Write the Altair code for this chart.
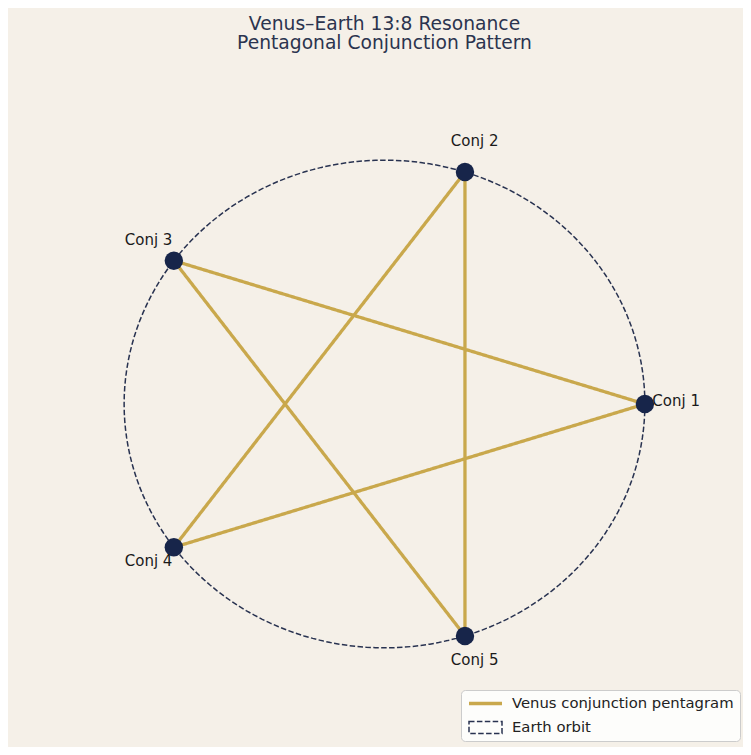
import altair as alt
import pandas as pd

# ---- data ----
conj_labels = ["Conj 1", "Conj 2", "Conj 3", "Conj 4", "Conj 5"]
conj_angles_deg = [0, 72, 144, 216, 288]
pentagram_order = [1, 3, 5, 2, 4, 1]   # star drawn by joining every second conjunction
orbit_radius = 1.0
label_radius = 1.12

series_names = ["Venus conjunction pentagram", "Earth orbit"]
series_colors = ["#c9a84c", "#283250"]
series_dash = [[1, 0], [5.5, 2.4]]
series_width = [3.3, 1.5]
series_symbol = ["stroke", "M-1,-0.36H1V0.36H-1Z"]

BG = "#f5f0e8"
NAVY = "#17254a"
FONT = "DejaVu Sans"

points = pd.DataFrame({"label": conj_labels, "angle": conj_angles_deg})
star = pd.DataFrame({
    "step": list(range(len(pentagram_order))),
    "angle": [conj_angles_deg[i - 1] for i in pentagram_order],
    "series": series_names[0],
})

xs = alt.Scale(domain=[-1.3, 1.3], nice=False, zero=False)
ys = alt.Scale(domain=[-1.3, 1.3], nice=False, zero=False)

color_scale = alt.Scale(domain=series_names, range=series_colors)
dash_scale = alt.Scale(domain=series_names, range=series_dash)
width_scale = alt.Scale(domain=series_names, range=series_width)
shape_scale = alt.Scale(domain=series_names, range=series_symbol)

legend = alt.Legend(
    title=None,
    orient="none",
    legendX=415,
    legendY=603,
    symbolType="stroke",
    symbolSize=1089,
    symbolFillColor="transparent",
    clipHeight=15,
    rowPadding=8,
    labelOffset=8,
    labelFont=FONT,
    labelFontSize=14.8,
    labelColor="#222222",
    labelLimit=400,
    padding=6,
    fillColor="rgba(255,255,255,0.82)",
    strokeColor="#cccccc",
    cornerRadius=4,
)

enc = dict(
    color=alt.Color("series:N", scale=color_scale, legend=legend),
    strokeDash=alt.StrokeDash("series:N", scale=dash_scale, legend=legend),
    strokeWidth=alt.StrokeWidth("series:N", scale=width_scale, legend=legend),
)

orbit = (
    alt.Chart(alt.sequence(0, 362, 2, as_="deg"))
    .transform_calculate(
        x=f"{orbit_radius} * cos(datum.deg * PI / 180)",
        y=f"{orbit_radius} * sin(datum.deg * PI / 180)",
        series=f"'{series_names[1]}'",
    )
    .mark_line()
    .encode(
        x=alt.X("x:Q", scale=xs, axis=None),
        y=alt.Y("y:Q", scale=ys, axis=None),
        order="deg:Q",
        **enc,
    )
)

pent = (
    alt.Chart(star)
    .transform_calculate(
        x=f"{orbit_radius} * cos(datum.angle * PI / 180)",
        y=f"{orbit_radius} * sin(datum.angle * PI / 180)",
    )
    .mark_line()
    .encode(
        x=alt.X("x:Q", scale=xs, axis=None),
        y=alt.Y("y:Q", scale=ys, axis=None),
        order="step:Q",
        **enc,
    )
)

# invisible layer that only carries the legend glyph shapes
glyphs = (
    alt.Chart(star)
    .transform_calculate(
        x=f"{orbit_radius} * cos(datum.angle * PI / 180)",
        y=f"{orbit_radius} * sin(datum.angle * PI / 180)",
    )
    .mark_point(opacity=0, filled=False)
    .encode(
        x=alt.X("x:Q", scale=xs, axis=None),
        y=alt.Y("y:Q", scale=ys, axis=None),
        shape=alt.Shape("series:N", scale=shape_scale, legend=legend),
        **enc,
    )
)

dots = (
    alt.Chart(points)
    .transform_calculate(
        x=f"{orbit_radius} * cos(datum.angle * PI / 180)",
        y=f"{orbit_radius} * sin(datum.angle * PI / 180)",
    )
    .mark_circle(size=340, color=NAVY, opacity=1)
    .encode(
        x=alt.X("x:Q", scale=xs, axis=None),
        y=alt.Y("y:Q", scale=ys, axis=None),
    )
)

labels = (
    alt.Chart(points)
    .transform_calculate(
        x=f"{label_radius} * cos(datum.angle * PI / 180)",
        y=f"{label_radius} * sin(datum.angle * PI / 180)",
    )
    .mark_text(font=FONT, fontSize=15, color="#1a1a1a", align="center", baseline="middle", dy=-3.5)
    .encode(
        x=alt.X("x:Q", scale=xs, axis=None),
        y=alt.Y("y:Q", scale=ys, axis=None),
        text="label:N",
    )
)

chart = (
    alt.layer(orbit, pent, glyphs, dots, labels)
    .properties(
        width=677,
        height=634,
        autosize="none",
        padding={"left": 38, "top": 79, "right": 20, "bottom": 26},
        background=BG,
        title=alt.TitleParams(
            text=["Venus\u2013Earth 13:8 Resonance", "Pentagonal Conjunction Pattern"],
            font=FONT,
            fontSize=18.7,
            fontWeight="normal",
            color="#2b344f",
            anchor="middle",
            lineHeight=19.5,
            offset=34,
        ),
    )
    .configure_view(stroke=None)
)

chart.save("out.html", embed_options={"renderer": "svg", "actions": False})
